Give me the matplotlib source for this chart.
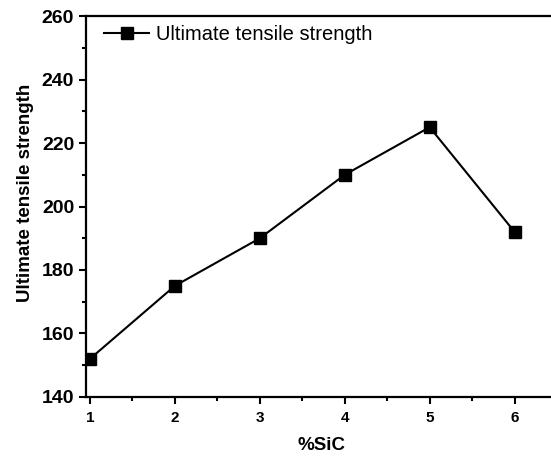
import matplotlib.pyplot as plt
from matplotlib.ticker import MultipleLocator

sic = [1, 2, 3, 4, 5, 6]
uts = [152, 175, 190, 210, 225, 192]

plt.rcParams['font.family'] = ['Liberation Sans', 'DejaVu Sans']

fig = plt.figure(figsize=(5.51, 4.61), dpi=100)
ax = fig.add_axes([0.156, 0.139, 0.855, 0.826])

ax.plot(sic, uts, color='black', lw=1.5, marker='s', markersize=8.3,
        label='Ultimate tensile strength')

ax.set_xlim(0.953, 6.5)
ax.set_ylim(140, 260)
ax.xaxis.set_major_locator(MultipleLocator(1))
ax.xaxis.set_minor_locator(MultipleLocator(0.5))
ax.yaxis.set_major_locator(MultipleLocator(20))
ax.yaxis.set_minor_locator(MultipleLocator(10))

for s in ax.spines.values():
    s.set_linewidth(1.6)
ax.tick_params(which='major', direction='out', length=5, width=1.5)
ax.tick_params(which='minor', direction='out', length=3, width=1.5)
ax.tick_params(axis='y', labelsize=14)
ax.tick_params(axis='x', labelsize=11, pad=5)
for lab in ax.get_xticklabels() + ax.get_yticklabels():
    lab.set_fontweight('bold')
ax.set_xlabel('%SiC', fontsize=13.5, fontweight='bold', labelpad=9)
ax.set_ylabel('Ultimate tensile strength', fontsize=13.5, fontweight='bold')
ax.yaxis.set_label_coords(-0.11, 0.535)

ax.legend(loc='upper left', bbox_to_anchor=(0, 1.024), frameon=False,
          fontsize=14.5, handlelength=2.25, borderaxespad=0.5, handletextpad=0.35)

fig.savefig('out.png', dpi=100)
